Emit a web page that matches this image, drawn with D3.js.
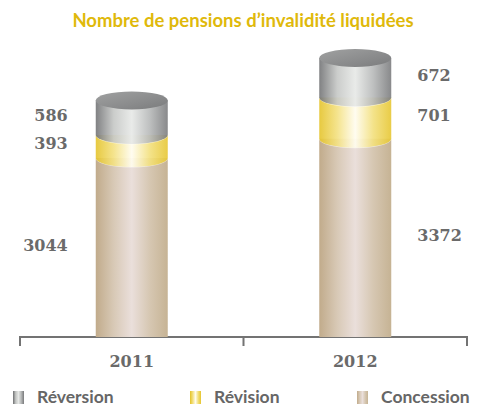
<!DOCTYPE html>
<html>
<head>
<meta charset="utf-8">
<script src="https://d3js.org/d3.v7.min.js"></script>
<style>
  body { margin: 0; background: #fff; }
  .title { font-family: Lato, "Open Sans", sans-serif; font-weight: bold; font-size: 18.5px; fill: #dfb90b; }
  .val { font-family: "DejaVu Serif", serif; font-weight: bold; font-size: 16px; fill: #6a6a6a; }
  .xlab { font-family: "DejaVu Serif", serif; font-weight: bold; font-size: 16px; fill: #6a6a6a; }
  .leg { font-family: Lato, "Open Sans", sans-serif; font-weight: bold; font-size: 17.5px; fill: #666666; }
</style>
</head>
<body>
<script>
var years = ["2011", "2012"];
var series = ["Concession", "Révision", "Réversion"];
var concession = [3044, 3372];
var revision = [393, 701];
var reversion = [586, 672];
var legendOrder = ["Réversion", "Révision", "Concession"];

var width = 483, height = 406;
var axisY = 337, rx = 36, ry = 9;

var svg = d3.select("body").append("svg")
    .attr("width", width)
    .attr("height", height);

// gradients for the cylinder bodies
var grads = {
  "Réversion": ["#6f7072", "#c4c6c4", "#e6e8e6", "#b5b7b7", "#78797b"],
  "Révision": ["#e4c226", "#f3e07e", "#fffcee", "#f2df7a", "#e6c52e"],
  "Concession": ["#c1ab8b", "#d8c9b6", "#eadfdb", "#d6c7b2", "#c6b394"]
};
var defs = svg.append("defs");
series.forEach(function(s, i) {
  var g = defs.append("linearGradient").attr("id", "g" + i)
      .attr("x1", "0%").attr("x2", "100%").attr("y1", "0%").attr("y2", "0%");
  grads[s].forEach(function(c, j) {
    g.append("stop").attr("offset", (j * 25) + "%").attr("stop-color", c);
  });
});
var cap = defs.append("linearGradient").attr("id", "cap")
    .attr("x1", "0%").attr("x2", "100%").attr("y1", "0%").attr("y2", "100%");
cap.append("stop").attr("offset", "0%").attr("stop-color", "#a0a1a1");
cap.append("stop").attr("offset", "60%").attr("stop-color", "#8a8b8c");
cap.append("stop").attr("offset", "100%").attr("stop-color", "#7a7b7c");

var x = d3.scaleBand().domain(years).range([20, 467]);
var y = d3.scaleLinear().domain([0, 5000]).range([axisY, 43]);

var table = years.map(function(yr, i) {
  return { year: yr, "Concession": concession[i], "Révision": revision[i], "Réversion": reversion[i] };
});
var stacked = d3.stack().keys(series)(table);

// title
svg.append("text").attr("class", "title")
    .attr("x", 243).attr("y", 27).attr("text-anchor", "middle")
    .text("Nombre de pensions d’invalidité liquidées");

// axis line with ticks at band edges
svg.append("path")
    .attr("d", "M" + x.range()[0] + "," + (axisY + 9) + "V" + axisY + "H" + x.range()[1] + "V" + (axisY + 9)
      + "M" + (x("2012")) + "," + axisY + "V" + (axisY + 9))
    .attr("fill", "none").attr("stroke", "#737373").attr("stroke-width", 2);

years.forEach(function(yr, i) {
  var cx = x(yr) + x.bandwidth() / 2;
  var x0 = cx - rx, x1 = cx + rx;
  var g = svg.append("g");
  stacked.forEach(function(layer, k) {
    var d = layer[i];
    var yb = y(d[0]), yt = y(d[1]);
    var body = "M" + x0 + "," + yt + "V" + yb;
    if (k > 0) {
      body += "A" + rx + "," + ry + " 0 0 0 " + x1 + "," + yb;
    } else {
      body += "H" + x1;
    }
    body += "V" + yt + "Z";
    g.append("path").attr("d", body)
        .attr("fill", "url(#g" + k + ")")
        .attr("opacity", k > 0 ? 0.88 : 1);
    if (k < series.length - 1) {
      g.append("ellipse")
          .attr("cx", cx).attr("cy", yt).attr("rx", rx).attr("ry", ry)
          .attr("fill", "#ffffff").attr("fill-opacity", 0.28)
          .attr("stroke", "#ffffff").attr("stroke-opacity", 0.7).attr("stroke-width", 0.8);
    } else {
      g.append("ellipse")
          .attr("cx", cx).attr("cy", yt).attr("rx", rx).attr("ry", ry)
          .attr("fill", "url(#cap)");
    }
    // value label
    var lx = i === 0 ? x0 - 28 : x1 + 26;
    svg.append("text").attr("class", "val")
        .attr("x", lx).attr("y", (yb + yt) / 2 + 3)
        .attr("text-anchor", i === 0 ? "end" : "start")
        .text(d.data[series[k]]);
  });
  svg.append("text").attr("class", "xlab")
      .attr("x", cx).attr("y", 367).attr("text-anchor", "middle")
      .text(yr);
});

// legend
var legX = [13, 190, 357];
legendOrder.forEach(function(s, i) {
  var k = series.indexOf(s);
  svg.append("rect").attr("x", legX[i]).attr("y", 391)
      .attr("width", 11).attr("height", 13)
      .attr("fill", "url(#g" + k + ")");
  svg.append("text").attr("class", "leg")
      .attr("x", legX[i] + 24).attr("y", 403)
      .text(s);
});
</script>
</body>
</html>
